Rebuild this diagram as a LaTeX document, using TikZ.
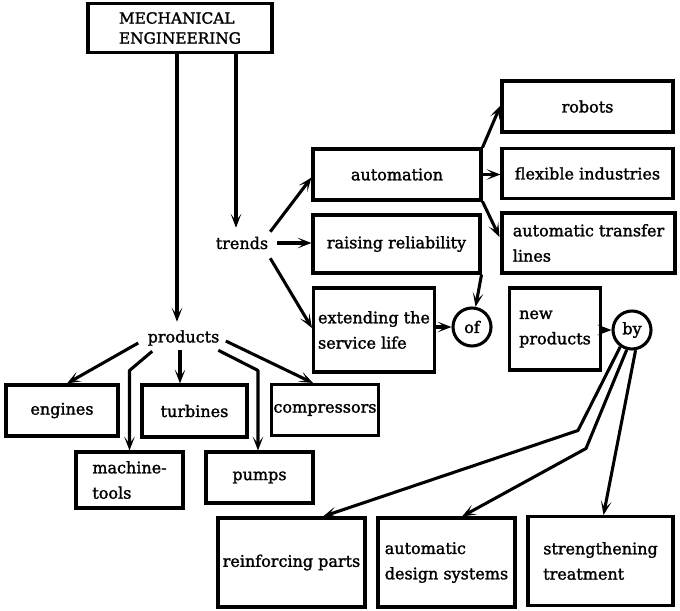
\documentclass[tikz,border=0pt]{standalone}
\usepackage{fontspec}
\setmainfont{DejaVu Serif}[BoldFont={DejaVu Serif}, BoldFeatures={FakeBold=1.6}]
\usetikzlibrary{arrows.meta}
\begin{document}
\begin{tikzpicture}[x=0.75pt,y=-0.75pt,
  every node/.style={font=\fontsize{12}{19}\selectfont\bfseries},
  box/.style 2 args={draw, line width=2.3pt, rectangle, inner sep=0pt, align=center,
    minimum width=#1*0.75pt, minimum height=#2*0.75pt},
  lbl/.style 2 args={rectangle, inner sep=0pt,
    minimum width=#1*0.75pt, minimum height=#2*0.75pt},
  circ/.style={draw, circle, line width=2.3pt, inner sep=0pt, minimum size=38*0.75pt},
  arr/.style={line width=2.3pt, line join=round,
    -{Stealth[length=10.5pt, width=8pt, inset=5.5pt]}}
]
\useasboundingbox (0,0) rectangle (680,610);

% root and the two main branches
\node[box={184}{49}, font=\fontsize{11.5}{15}\selectfont\bfseries, align=left] (top) at (180,28) {MECHANICAL\\ENGINEERING};
\node[lbl={56}{20}] (trends) at (242,243) {trends};
\node[lbl={78}{20}] (products) at (183.5,338) {products};

% trends
\node[box={168}{51}] (auto) at (397,174.5) {automation};
\node[box={167}{58}] (rel) at (396.5,244) {raising reliability};
\node[box={121}{84}, align=left] (ext) at (374,330) {extending the\\service life};
\node[circ] (of) at (472,327) {of};

% automation
\node[box={171}{51}] (robots) at (587.5,106.5) {robots};
\node[box={171}{50}] (flex) at (587.5,173.5) {flexible industries};
\node[box={173}{60}, align=left] (atl) at (588.5,243) {automatic transfer\\lines};

% new products
\node[box={91}{82}, align=left] (newp) at (555,329) {new\\products};
\node[circ] (by) at (632,330) {by};

% products
\node[box={112}{51}] (engines) at (62,410.5) {engines};
\node[box={105}{52}] (turbines) at (194.5,411) {turbines};
\node[box={107}{51}] (compr) at (325,410) {compressors};
\node[box={107}{56}, align=left] (machine) at (129.5,480) {machine-\\tools};
\node[box={107}{51}] (pumps) at (259.5,477.5) {pumps};

% ways of making new products
\node[box={147}{89}] (reinf) at (291.5,562.5) {reinforcing parts};
\node[box={137}{89}, align=left] (ads) at (446.5,562.5) {automatic\\design systems};
\node[box={145}{89}, align=left] (strength) at (600.5,561) {strengthening\\treatment};

% connectors from the root
\draw[arr] ([shift={(-3,0)}]top.south) -- ([shift={(-6.5,-6)}]products.north);
\draw[arr] ([shift={(56,0)}]top.south) -- ([shift={(-6,-5)}]trends.north);

% trends
\draw[arr] ([shift={(0,-1)}]trends.north east) -- ([shift={(0,3)}]auto.west);
\draw[arr] ([shift={(7,0)}]trends.east) -- (trends.east -| rel.west);
\draw[arr] ([shift={(0,5)}]trends.south east) -- ([shift={(0,-2)}]ext.west);

% automation
\draw[arr] (auto.north east) -- ([shift={(0,-1)}]robots.west);
\draw[arr] (auto.east) -- (auto.east -| flex.west);
\draw[arr] (auto.south east) -- ([shift={(-1,-6)}]atl.west);

% "of" and "by"
\draw[arr] (rel.south east) -- (of.80);
\draw[arr] (ext.east |- of.west) -- (of.west);
\draw[arr] (newp.east |- by.west) -- (by.west);

% products
\draw[arr] ([shift={(-6,5)}]products.west) -- ([shift={(5,0)}]engines.north);
\draw[arr] ([shift={(8,3)}]products.south west) -- ([shift={(0,-80)}]machine.north) -- (machine.north);
\draw[arr] ([shift={(-3.5,2)}]products.south) -- ([shift={(-14.5,0)}]turbines.north);
\draw[arr] ([shift={(-4.5,2)}]products.south east) -- ([shift={(-1.5,-80)}]pumps.north) -- ([shift={(-1.5,0)}]pumps.north);
\draw[arr] ([shift={(3,3)}]products.east) -- ([shift={(-12,0)}]compr.north);

% by
\draw[arr] (by.235) -- ([shift={(286.5,-86)}]reinf.north) -- ([shift={(31.5,0)}]reinf.north);
\draw[arr] (by.255) -- ([shift={(139.5,-68)}]ads.north) -- ([shift={(15.5,0)}]ads.north);
\draw[arr] (by.280) -- ([shift={(3,0)}]strength.north);
\end{tikzpicture}
\end{document}
